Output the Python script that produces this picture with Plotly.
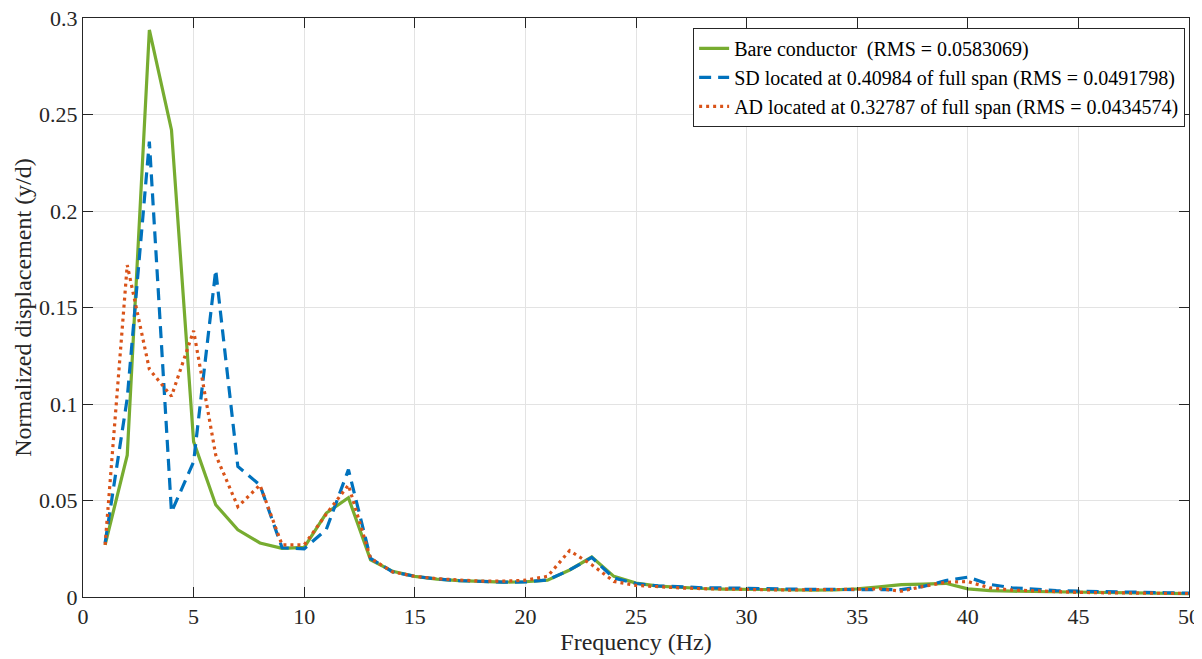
import plotly.graph_objects as go

freq = list(range(1, 51))

bare = [0.027, 0.0735, 0.2938, 0.242, 0.0805, 0.0478, 0.0348, 0.028, 0.0252, 0.0257,
        0.0435, 0.0514, 0.0193, 0.0133, 0.0107, 0.0093, 0.0085, 0.0079, 0.0077, 0.0079,
        0.0087, 0.0140, 0.0207, 0.0107, 0.0072, 0.0056, 0.0048, 0.0044, 0.0041, 0.0039,
        0.0037, 0.0036, 0.0036, 0.0037, 0.0042, 0.0052, 0.0064, 0.0067, 0.0071, 0.0042,
        0.0033, 0.0030, 0.0028, 0.0026, 0.0024, 0.0022, 0.0021, 0.0020, 0.0019, 0.0018]

sd = [0.028, 0.103, 0.236, 0.044, 0.070, 0.1694, 0.0676, 0.058, 0.0255, 0.025,
      0.035, 0.066, 0.020, 0.013, 0.0107, 0.0093, 0.0085, 0.0079, 0.0077, 0.0078,
      0.0088, 0.0140, 0.0205, 0.0098, 0.0070, 0.0058, 0.0052, 0.0048, 0.0047, 0.0044,
      0.0042, 0.0040, 0.0039, 0.0039, 0.0040, 0.0040, 0.0038, 0.0055, 0.0085, 0.0103,
      0.0065, 0.0048, 0.0040, 0.0033, 0.0030, 0.0027, 0.0025, 0.0023, 0.0022, 0.0020]

ad = [0.027, 0.172, 0.118, 0.104, 0.138, 0.0736, 0.0468, 0.058, 0.027, 0.027,
      0.043, 0.058, 0.020, 0.013, 0.0107, 0.0095, 0.0088, 0.0082, 0.0082, 0.0087,
      0.0107, 0.0240, 0.0167, 0.0081, 0.0060, 0.0052, 0.0047, 0.0043, 0.0040, 0.0038,
      0.0037, 0.0036, 0.0036, 0.0038, 0.0040, 0.0043, 0.0030, 0.0055, 0.0076, 0.0080,
      0.0047, 0.0036, 0.0031, 0.0027, 0.0024, 0.0022, 0.0021, 0.0020, 0.0019, 0.0018]

series_names = [
    "Bare conductor \u00a0(RMS = 0.0583069)",
    "SD located at 0.40984 of full span (RMS = 0.0491798)",
    "AD located at 0.32787 of full span (RMS = 0.0434574)",
]

x_ticks = [0, 5, 10, 15, 20, 25, 30, 35, 40, 45, 50]
x_ticktext = ["0", "5", "10", "15", "20", "25", "30", "35", "40", "45", "50"]
y_ticks = [0, 0.05, 0.1, 0.15, 0.2, 0.25, 0.3]
y_ticktext = ["0", "0.05", "0.1", "0.15", "0.2", "0.25", "0.3"]

FONT = "Liberation Serif, Times New Roman, Times, DejaVu Serif, serif"
AXC = "#262626"

fig = go.Figure()
fig.add_trace(go.Scatter(x=freq, y=bare, mode="lines", name=series_names[0],
                         line=dict(color="#77AC30", width=3.2)))
fig.add_trace(go.Scatter(x=freq, y=sd, mode="lines", name=series_names[1],
                         line=dict(color="#0072BD", width=3.2, dash="12px,7px")))
fig.add_trace(go.Scatter(x=freq, y=ad, mode="lines", name=series_names[2],
                         line=dict(color="#D95319", width=3.2, dash="3px,4px")))

# page body has an 8px margin, so the figure is sized/offset to compensate
fig.update_layout(
    width=1194, height=651,
    margin=dict(l=75, r=13, t=10, b=62),
    paper_bgcolor="white", plot_bgcolor="white",
    font=dict(family=FONT, color=AXC, size=22),
    showlegend=True,
    legend=dict(
        x=0.9965, y=0.983, xanchor="right", yanchor="top",
        bgcolor="white", bordercolor=AXC, borderwidth=1,
        font=dict(family=FONT, size=20, color="black"),
        tracegroupgap=0, itemwidth=30,
    ),
)

fig.update_xaxes(
    range=[0, 50], tickmode="array", tickvals=x_ticks, ticktext=x_ticktext,
    showgrid=True, gridcolor="#E3E3E3", gridwidth=1,
    showline=True, linecolor=AXC, linewidth=1, mirror="ticks",
    ticks="inside", ticklen=10, tickcolor=AXC, zeroline=False,
    tickfont=dict(size=22, family=FONT, color=AXC), automargin=False,
    ticklabeloverflow="allow",
    title=dict(text="Frequency (Hz)", font=dict(size=24, family=FONT, color=AXC), standoff=0),
)
fig.update_yaxes(
    range=[0, 0.3], tickmode="array", tickvals=y_ticks, ticktext=y_ticktext,
    showgrid=True, gridcolor="#E3E3E3", gridwidth=1,
    showline=True, linecolor=AXC, linewidth=1, mirror="ticks",
    ticks="inside", ticklen=10, tickcolor=AXC, zeroline=False,
    tickfont=dict(size=22, family=FONT, color=AXC), automargin=False,
    ticklabeloverflow="allow",
    title=dict(text="Normalized displacement (y/d)", font=dict(size=24, family=FONT, color=AXC), standoff=0),
)

fig.write_html("out.html")
